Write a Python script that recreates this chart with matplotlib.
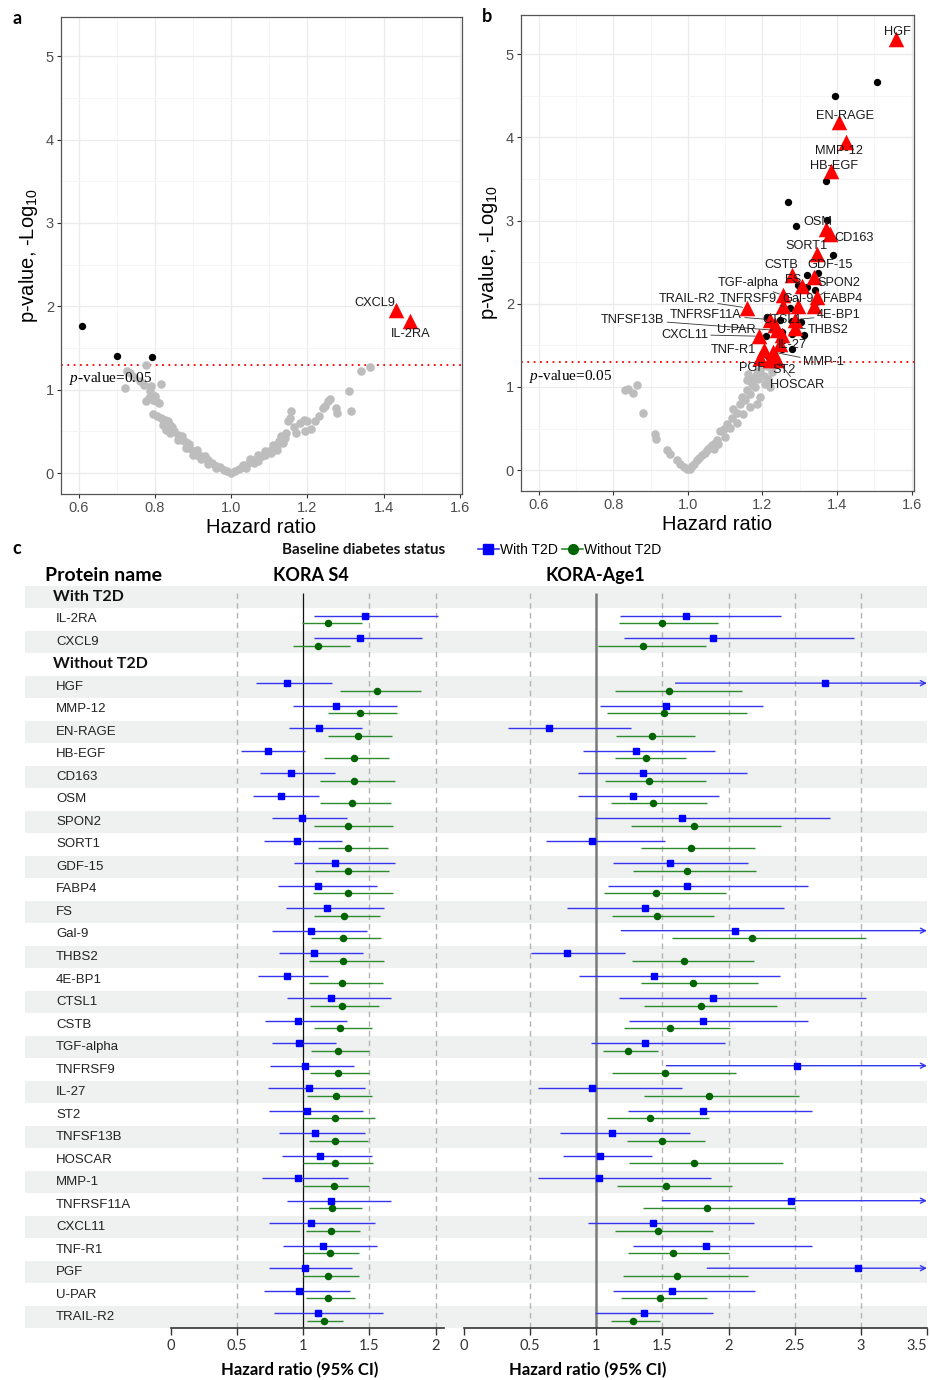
import matplotlib
matplotlib.use("Agg")
import matplotlib.pyplot as plt
import numpy as np
from matplotlib.lines import Line2D

plt.rcParams['font.family'] = ['Liberation Sans', 'DejaVu Sans']
plt.rcParams['mathtext.fontset'] = 'custom'
plt.rcParams['mathtext.rm'] = 'Liberation Sans'
plt.rcParams['mathtext.it'] = 'Liberation Serif:italic'

# ---------------- panel a : KORA S4 volcano ----------------
a_gray = [
    (0.725, 1.23), (0.735, 1.20), (0.745, 1.15), (0.72, 1.02), (0.76, 1.10), (0.77, 1.06),
    (0.777, 1.30), (0.786, 0.99), (0.79, 1.05), (0.816, 1.07), (0.775, 0.86), (0.785, 0.90),
    (0.795, 0.88), (0.803, 0.86), (0.81, 0.84), (0.80, 0.93), (0.795, 0.71), (0.805, 0.68),
    (0.815, 0.66), (0.825, 0.64), (0.835, 0.62), (0.84, 0.58), (0.83, 0.52), (0.845, 0.55),
    (0.85, 0.50), (0.86, 0.46), (0.865, 0.42), (0.87, 0.40), (0.88, 0.37), (0.885, 0.33),
    (0.89, 0.30), (0.90, 0.27), (0.905, 0.25), (0.91, 0.22), (0.92, 0.21), (0.93, 0.18),
    (0.94, 0.16), (0.95, 0.12), (0.96, 0.09), (0.97, 0.07), (0.98, 0.04), (0.99, 0.02),
    (1.0, 0.005), (0.82, 0.58), (0.84, 0.48), (0.86, 0.40), (0.88, 0.30), (0.90, 0.22),
    (0.92, 0.17), (0.94, 0.11), (0.96, 0.06), (0.87, 0.45), (0.89, 0.35), (0.91, 0.28),
    (0.93, 0.21),
    (1.01, 0.02), (1.02, 0.05), (1.03, 0.07), (1.04, 0.10), (1.05, 0.13), (1.06, 0.16),
    (1.07, 0.15), (1.08, 0.20), (1.09, 0.22), (1.10, 0.26), (1.11, 0.30), (1.12, 0.32),
    (1.125, 0.38), (1.13, 0.44), (1.14, 0.42), (1.145, 0.48), (1.15, 0.62), (1.155, 0.66),
    (1.158, 0.74), (1.165, 0.55), (1.17, 0.48), (1.18, 0.60), (1.19, 0.64), (1.195, 0.50),
    (1.20, 0.62), (1.21, 0.53), (1.22, 0.63), (1.23, 0.68), (1.24, 0.78), (1.245, 0.80),
    (1.255, 0.86), (1.26, 0.89), (1.275, 0.78), (1.278, 0.72), (1.31, 0.98), (1.315, 0.74),
    (1.342, 1.23), (1.364, 1.27), (1.03, 0.10), (1.05, 0.17), (1.07, 0.22), (1.09, 0.27),
    (1.11, 0.34), (1.12, 0.28), (1.135, 0.36), (1.105, 0.24), (1.06, 0.12), (1.04, 0.06),
]
a_black_hr = [0.609, 0.70, 0.792]
a_black_logp = [1.77, 1.41, 1.39]
a_red_names = ['CXCL9', 'IL-2RA']
a_red_hr = [1.432, 1.469]
a_red_logp = [1.96, 1.82]
a_lab_x = [1.378, 1.471]
a_lab_y = [2.04, 1.67]

# ---------------- panel b : KORA-Age1 volcano ----------------
b_gray = [
    (0.832, 0.96), (0.841, 0.98), (0.852, 0.93), (0.863, 1.02), (0.879, 0.69), (0.911, 0.44),
    (0.915, 0.37), (0.944, 0.24), (0.953, 0.20), (0.971, 0.12), (0.98, 0.07), (0.99, 0.04),
    (0.997, 0.01), (1.011, 0.05), (1.024, 0.12), (1.038, 0.18), (1.051, 0.24), (1.064, 0.30),
    (1.078, 0.36), (1.087, 0.47), (1.096, 0.49), (1.104, 0.55), (1.118, 0.63), (1.122, 0.73),
    (1.131, 0.69), (1.14, 0.80), (1.145, 0.88), (1.154, 0.84), (1.158, 0.96), (1.167, 0.92),
    (1.171, 1.04), (1.176, 1.11), (1.18, 1.00), (1.185, 1.17), (1.189, 1.09), (1.194, 1.21),
    (1.203, 1.13), (1.207, 1.04), (1.212, 1.25), (1.216, 1.09), (1.22, 1.00), (1.194, 0.88),
    (1.185, 0.80), (1.167, 0.76), (1.149, 0.67), (1.131, 0.57), (1.113, 0.51), (1.10, 0.40),
    (1.082, 0.32), (1.069, 0.26), (1.158, 1.08), (1.162, 1.15), (1.005, 0.02), (1.017, 0.08),
    (1.031, 0.15), (1.045, 0.21), (1.058, 0.27), (1.072, 0.33), (1.225, 1.18), (1.23, 1.26),
]
b_black_hr = [1.508, 1.393, 1.371, 1.268, 1.289, 1.373, 1.39, 1.32, 1.35, 1.294, 1.319,
              1.342, 1.261, 1.275, 1.212, 1.247, 1.279, 1.303, 1.229, 1.252, 1.279, 1.31,
              1.21, 1.256, 1.279, 1.216, 1.252]
b_black_logp = [4.67, 4.50, 3.48, 3.22, 2.94, 3.01, 2.58, 2.35, 2.37, 2.23, 2.20,
                2.16, 2.08, 1.95, 1.84, 1.81, 1.79, 1.78, 1.73, 1.66, 1.64, 1.63,
                1.61, 1.56, 1.46, 1.37, 1.46]
b_red_names = ['HGF', 'EN-RAGE', 'MMP-12', 'HB-EGF', 'OSM', 'CD163', 'SORT1', 'CSTB',
               'GDF-15', 'FS', 'SPON2', 'FABP4', 'Gal-9', 'TGF-alpha', 'TNFRSF9',
               'TRAIL-R2', 'TNFRSF11A', 'CTSL1', '4E-BP1', 'THBS2', 'TNFSF13B', 'U-PAR',
               'CXCL11', 'IL-27', 'TNF-R1', 'MMP-1', 'PGF', 'ST2', 'HOSCAR']
b_red_hr = [1.558, 1.404, 1.424, 1.384, 1.371, 1.381, 1.346, 1.279, 1.337, 1.305, 1.346,
            1.337, 1.296, 1.256, 1.256, 1.158, 1.221, 1.234, 1.288, 1.288, 1.238, 1.252,
            1.192, 1.247, 1.203, 1.229, 1.194, 1.221, 1.238]
b_red_logp = [5.18, 4.19, 3.94, 3.60, 2.90, 2.84, 2.60, 2.35, 2.32, 2.21, 2.08, 1.97,
              1.97, 2.10, 1.97, 1.95, 1.81, 1.75, 1.81, 1.71, 1.68, 1.62, 1.61, 1.52,
              1.44, 1.42, 1.35, 1.33, 1.33]
b_lab_x = [1.562, 1.421, 1.404, 1.393, 1.347, 1.446, 1.319, 1.249, 1.381, 1.281, 1.404,
           1.415, 1.296, 1.163, 1.163, 0.997, 1.049, 1.252, 1.404, 1.377, 0.852, 1.129,
           0.991, 1.279, 1.122, 1.363, 1.171, 1.258, 1.294]
b_lab_y = [5.26, 4.26, 3.83, 3.65, 2.98, 2.79, 2.69, 2.46, 2.46, 2.29, 2.25, 2.06,
           2.06, 2.25, 2.06, 2.06, 1.87, 1.80, 1.86, 1.68, 1.81, 1.68, 1.63, 1.50,
           1.45, 1.30, 1.23, 1.20, 1.02]
b_leader = ['FS', 'SPON2', 'FABP4', 'Gal-9', 'TGF-alpha', 'TNFRSF9', 'TRAIL-R2',
            'TNFRSF11A', '4E-BP1', 'THBS2', 'TNFSF13B', 'CXCL11', 'MMP-1', 'HOSCAR']

# ---------------- panel c : forest plots ----------------
t2d_proteins = ['IL-2RA', 'CXCL9']
nt2d_proteins = ['HGF', 'MMP-12', 'EN-RAGE', 'HB-EGF', 'CD163', 'OSM', 'SPON2', 'SORT1',
                 'GDF-15', 'FABP4', 'FS', 'Gal-9', 'THBS2', '4E-BP1', 'CTSL1', 'CSTB',
                 'TGF-alpha', 'TNFRSF9', 'IL-27', 'ST2', 'TNFSF13B', 'HOSCAR', 'MMP-1',
                 'TNFRSF11A', 'CXCL11', 'TNF-R1', 'PGF', 'U-PAR', 'TRAIL-R2']

# KORA S4, with T2D (blue)
s4_b_hr = [1.47, 1.43, 0.88, 1.25, 1.12, 0.73, 0.91, 0.83, 0.99, 0.95, 1.24, 1.11, 1.18,
           1.06, 1.08, 0.88, 1.21, 0.96, 0.97, 1.01, 1.04, 1.03, 1.09, 1.13, 0.96, 1.21,
           1.06, 1.15, 1.01, 0.97, 1.11]
s4_b_lo = [1.08, 1.08, 0.64, 0.92, 0.89, 0.53, 0.67, 0.62, 0.76, 0.70, 0.93, 0.81, 0.87,
           0.76, 0.82, 0.66, 0.88, 0.71, 0.76, 0.75, 0.73, 0.74, 0.82, 0.84, 0.69, 0.88,
           0.74, 0.85, 0.74, 0.70, 0.78]
s4_b_hi = [2.02, 1.90, 1.22, 1.71, 1.44, 1.01, 1.24, 1.12, 1.33, 1.29, 1.69, 1.56, 1.61,
           1.48, 1.45, 1.19, 1.66, 1.33, 1.25, 1.38, 1.47, 1.45, 1.47, 1.52, 1.34, 1.66,
           1.54, 1.56, 1.37, 1.35, 1.60]
# KORA S4, without T2D (green)
s4_g_hr = [1.19, 1.11, 1.56, 1.43, 1.41, 1.38, 1.38, 1.37, 1.34, 1.34, 1.34, 1.34, 1.31,
           1.30, 1.30, 1.29, 1.29, 1.28, 1.26, 1.26, 1.25, 1.24, 1.24, 1.24, 1.23, 1.22,
           1.21, 1.20, 1.19, 1.19, 1.16]
s4_g_lo = [0.99, 0.92, 1.28, 1.19, 1.19, 1.16, 1.13, 1.13, 1.08, 1.11, 1.09, 1.07, 1.08,
           1.06, 1.04, 1.04, 1.05, 1.08, 1.06, 1.05, 1.03, 1.00, 1.04, 1.00, 1.00, 1.04,
           1.02, 1.00, 1.00, 1.02, 1.03]
s4_g_hi = [1.44, 1.35, 1.89, 1.71, 1.67, 1.65, 1.69, 1.66, 1.68, 1.64, 1.65, 1.68, 1.58,
           1.59, 1.61, 1.60, 1.57, 1.52, 1.50, 1.50, 1.52, 1.54, 1.49, 1.53, 1.50, 1.44,
           1.43, 1.42, 1.42, 1.39, 1.30]
# KORA-Age1, with T2D (blue); inf = interval runs off the axis
age_b_hr = [1.68, 1.88, 2.73, 1.53, 0.64, 1.30, 1.35, 1.28, 1.65, 0.97, 1.56, 1.69, 1.37,
            2.05, 0.78, 1.44, 1.88, 1.81, 1.37, 2.52, 0.97, 1.81, 1.12, 1.03, 1.02, 2.47,
            1.43, 1.83, 2.98, 1.57, 1.36]
age_b_lo = [1.18, 1.21, 1.60, 1.03, 0.33, 0.90, 0.86, 0.86, 0.99, 0.62, 1.13, 1.09, 0.78,
            1.19, 0.51, 0.87, 1.17, 1.25, 0.96, 1.53, 0.56, 1.24, 0.73, 0.75, 0.56, 1.50,
            0.94, 1.28, 1.84, 1.13, 0.99]
age_b_hi = [2.40, 2.95, np.inf, 2.26, 1.26, 1.90, 2.14, 1.93, 2.77, 1.52, 2.15, 2.60, 2.42,
            np.inf, 1.22, 2.39, 3.04, 2.60, 1.97, np.inf, 1.65, 2.63, 1.71, 1.42, 1.87,
            np.inf, 2.19, 2.63, np.inf, 2.20, 1.88]
# KORA-Age1, without T2D (green)
age_g_hr = [1.50, 1.35, 1.55, 1.51, 1.42, 1.38, 1.40, 1.43, 1.74, 1.72, 1.69, 1.45, 1.46,
            2.18, 1.66, 1.73, 1.79, 1.56, 1.24, 1.52, 1.85, 1.41, 1.50, 1.74, 1.53, 1.84,
            1.47, 1.58, 1.61, 1.48, 1.28]
age_g_lo = [1.17, 1.01, 1.14, 1.08, 1.15, 1.14, 1.07, 1.11, 1.26, 1.34, 1.28, 1.06, 1.12,
            1.57, 1.27, 1.34, 1.36, 1.21, 1.05, 1.12, 1.36, 1.08, 1.23, 1.25, 1.16, 1.35,
            1.14, 1.24, 1.20, 1.19, 1.11]
age_g_hi = [1.92, 1.83, 2.10, 2.14, 1.75, 1.68, 1.83, 1.84, 2.40, 2.20, 2.21, 1.98, 1.89,
            3.04, 2.19, 2.22, 2.37, 2.01, 1.47, 2.06, 2.53, 1.85, 1.82, 2.41, 2.03, 2.50,
            1.88, 2.00, 2.15, 1.84, 1.48]

s4_ticks = [0, 0.5, 1, 1.5, 2]
s4_ticklabels = ['0', '0.5', '1', '1.5', '2']
age_ticks = [0, 0.5, 1, 1.5, 2, 2.5, 3, 3.5]
age_ticklabels = ['0', '0.5', '1', '1.5', '2', '2.5', '3', '3.5']

W, H = 930, 1380
fig = plt.figure(figsize=(W / 100, H / 100), dpi=100)


def px_axes(x0, y0, x1, y1):
    return fig.add_axes([x0 / W, 1 - y1 / H, (x1 - x0) / W, (y1 - y0) / H])


def px_text(x, y, s, **kw):
    return fig.text(x / W, 1 - y / H, s, **kw)


def volcano(ax, gray, black_hr, black_logp, names, red_hr, red_logp, lab_x, lab_y, leader=()):
    gray = np.array(gray)
    ax.set_xlim(0.553, 1.606)
    ax.set_ylim(-0.25, 5.47)
    ax.set_xticks([0.6, 0.8, 1.0, 1.2, 1.4, 1.6])
    ax.set_xticks([0.7, 0.9, 1.1, 1.3, 1.5], minor=True)
    ax.set_yticks([0, 1, 2, 3, 4, 5])
    ax.set_yticks([0.5, 1.5, 2.5, 3.5, 4.5], minor=True)
    ax.grid(which='major', color='#ebebeb', lw=0.9)
    ax.grid(which='minor', color='#f4f4f4', lw=0.6)
    ax.set_axisbelow(True)
    ax.tick_params(which='minor', length=0)
    ax.tick_params(which='major', length=3, color='#333333', labelsize=10.5,
                   labelcolor='#4d4d4d', pad=2)
    for s in ax.spines.values():
        s.set_color('#555555')
        s.set_linewidth(0.9)
    ax.axhline(-np.log10(0.05), color='red', ls=(0, (1, 2.5)), lw=1.3, zorder=2)
    ax.scatter(gray[:, 0], gray[:, 1], s=38, color='#bdbdbd', lw=0, zorder=3)
    ax.scatter(black_hr, black_logp, s=28, color='black', lw=0, zorder=4)
    ax.scatter(red_hr, red_logp, s=125, marker='^', color='#ff0000', lw=0, zorder=5)
    for n, x, y, lx, ly in zip(names, red_hr, red_logp, lab_x, lab_y):
        if n in leader:
            ax.annotate(n, xy=(x, y), xytext=(lx, ly), ha='center', va='center',
                        fontsize=9.2, color='#1a1a1a', zorder=6,
                        arrowprops=dict(arrowstyle='-', color='#333333', lw=0.6,
                                        shrinkA=0, shrinkB=3))
        else:
            ax.text(lx, ly, n, ha='center', va='center', fontsize=9.2, color='#1a1a1a',
                    zorder=6)
    ax.text(0.575, 1.13, r'$p$-value=0.05', fontfamily='Liberation Serif', fontsize=11,
            ha='left', va='center', zorder=6)
    ax.set_xlabel('Hazard ratio', fontsize=14.5, labelpad=2)
    ax.set_ylabel(r'p-value, -Log$_{\mathrm{10}}$', fontsize=14.5, labelpad=4)


ax_a = px_axes(61, 17, 462, 494)
volcano(ax_a, a_gray, a_black_hr, a_black_logp, a_red_names, a_red_hr, a_red_logp,
        a_lab_x, a_lab_y)
ax_b = px_axes(521, 15, 914, 491)
volcano(ax_b, b_gray, b_black_hr, b_black_logp, b_red_names, b_red_hr, b_red_logp,
        b_lab_x, b_lab_y, leader=b_leader)

px_text(12, 18, 'a', fontsize=13, fontweight='bold', family='Lato', va='center')
px_text(482, 16, 'b', fontsize=13, fontweight='bold', family='Lato', va='center')
px_text(12, 548, 'c', fontsize=13, fontweight='bold', family='Lato', va='center')

# ---------------- panel c layout ----------------
rows = ['With T2D'] + t2d_proteins + ['Without T2D'] + nt2d_proteins
headers = ['With T2D', 'Without T2D']
prot_rows = np.array([i for i, r in enumerate(rows) if r not in headers])
n_rows = len(rows)
band_top, band_bot = 585.7, 1328.3
px_per_hr = 132.3

ax_bg = px_axes(25, band_top, 927, band_bot)
ax_bg.set_xlim(0, 1)
ax_bg.set_ylim(n_rows - 0.5, -0.5)
ax_bg.axis('off')
for i in range(0, n_rows, 2):
    ax_bg.axhspan(i - 0.5, i + 0.5, color='#eef1f0', lw=0)
for i, r in enumerate(rows):
    if r in headers:
        ax_bg.text(28 / 902, i, r, fontsize=11.5, fontweight='bold', family='Lato',
                   va='center', ha='left', color='#111111')
    else:
        ax_bg.text(31 / 902, i, r, fontsize=9.5, va='center', ha='left', color='#222222')

BLUE, BLUE_L = '#0000ff', '#3535f0'
GREEN, GREEN_L = '#006400', '#2e8b2e'


def forest(x0, xmax, ticks, ticklabels, ref_color, ref_lw,
           b_hr, b_lo, b_hi, g_hr, g_lo, g_hi):
    ax = px_axes(x0, band_top, x0 + xmax * px_per_hr, band_bot)
    ax.set_facecolor('none')
    ax.set_xlim(0, xmax)
    ax.set_ylim(n_rows - 0.5, -0.5)
    for s in ['top', 'left', 'right']:
        ax.spines[s].set_visible(False)
    ax.spines['bottom'].set_color('#333333')
    ax.spines['bottom'].set_linewidth(1.2)
    ax.set_yticks([])
    ax.set_xticks(ticks, labels=ticklabels)
    ax.tick_params(axis='x', length=5, width=1, color='#333333', labelsize=10.5,
                   labelcolor='#333333', pad=3)
    for lab in ax.get_xticklabels():
        lab.set_family('Lato')
    if ticks[-1] >= xmax:
        ax.get_xticklabels()[-1].set_horizontalalignment('right')
    grid = [t for t in ticks if t not in (0, 1) and t < xmax]
    ax.vlines(grid, -0.16, n_rows - 0.5, colors='#b4b4b4', linestyles=(0, (4, 3)), lw=1)
    ax.vlines([1], -0.16, n_rows - 0.5, colors=ref_color, lw=ref_lw, zorder=2)
    yb = prot_rows - 0.17
    yg = prot_rows + 0.17
    for y, hr, lo, hi, lc, mc, mk in [(yb, b_hr, b_lo, b_hi, BLUE_L, BLUE, 's'),
                                      (yg, g_hr, g_lo, g_hi, GREEN_L, GREEN, 'o')]:
        hi = np.array(hi, dtype=float)
        lo = np.array(lo, dtype=float)
        inside = hi <= xmax
        ax.hlines(y[inside], lo[inside], hi[inside], colors=lc, lw=1.0, zorder=3)
        for yy, l in zip(y[~inside], lo[~inside]):
            ax.annotate('', xy=(xmax, yy), xytext=(l, yy), zorder=3, annotation_clip=False,
                        arrowprops=dict(arrowstyle='->', color=lc, lw=1.0,
                                        shrinkA=0, shrinkB=0, mutation_scale=9))
        ax.plot(hr, y, mk, color=mc, ms=4.6 if mk == 's' else 4.4, zorder=4, clip_on=False)
    return ax


forest(171, 2.06, s4_ticks, s4_ticklabels, '#111111', 0.9,
       s4_b_hr, s4_b_lo, s4_b_hi, s4_g_hr, s4_g_lo, s4_g_hi)
forest(463.9, 3.5, age_ticks, age_ticklabels, '#7a7a7a', 1.8,
       age_b_hr, age_b_lo, age_b_hi, age_g_hr, age_g_lo, age_g_hi)

# headers of panel c
px_text(364, 550, 'Baseline diabetes status', fontsize=11, fontweight='bold', family='Lato',
        ha='center', va='center', color='#111111')
px_text(45, 575, 'Protein name', fontsize=14, fontweight='bold', family='Lato',
        ha='left', va='center')
px_text(311, 575, 'KORA S4', fontsize=13, fontweight='bold', family='Lato',
        ha='center', va='center')
px_text(595, 575, 'KORA-Age1', fontsize=13, fontweight='bold', family='Lato',
        ha='center', va='center')
px_text(300, 1370, 'Hazard ratio (95% CI)', fontsize=12, fontweight='bold', family='Lato',
        ha='center', va='center')
px_text(588, 1370, 'Hazard ratio (95% CI)', fontsize=12, fontweight='bold', family='Lato',
        ha='center', va='center')

handles = [Line2D([], [], color=BLUE_L, marker='s', mfc=BLUE, mec=BLUE, ms=7, lw=1.2),
           Line2D([], [], color=GREEN_L, marker='o', mfc=GREEN, mec=GREEN, ms=7, lw=1.2)]
fig.legend(handles, ['With T2D', 'Without T2D'], loc='center left',
           bbox_to_anchor=(478 / W, 1 - 550 / H), ncol=2, frameon=False, fontsize=10,
           handlelength=1.5, handletextpad=0.1, columnspacing=0.3, borderpad=0,
           borderaxespad=0)

fig.savefig('out.png', dpi=100)
